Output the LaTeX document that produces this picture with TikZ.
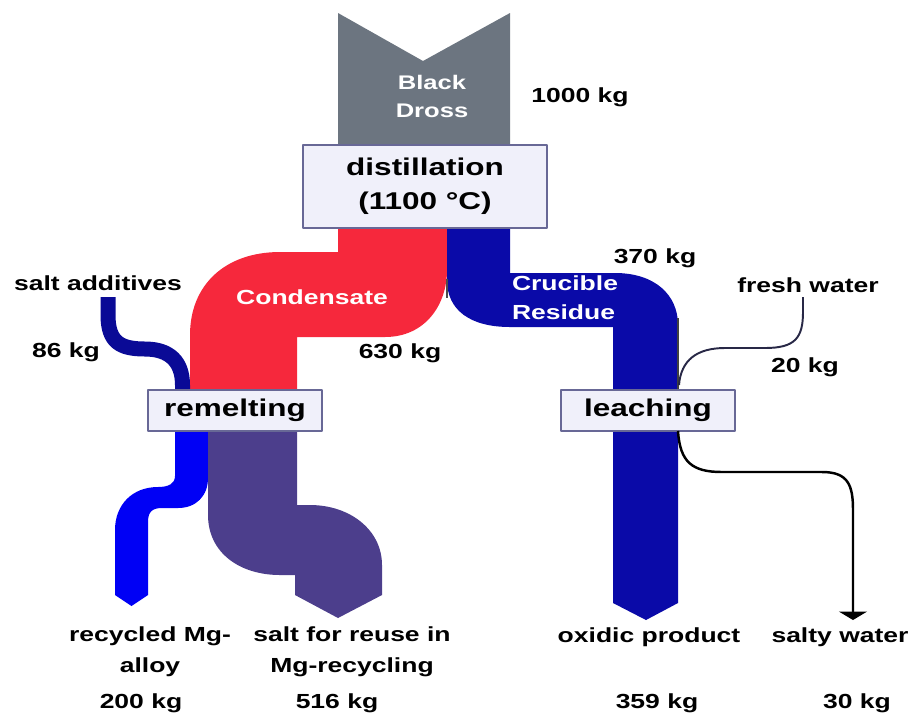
\documentclass[tikz,border=0pt]{standalone}
\usepackage{fontspec}
\setmainfont{Liberation Sans}[FakeStretch=1.3]
\usetikzlibrary{arrows.meta}

\definecolor{drossgray}{RGB}{108,117,128}
\definecolor{condred}{RGB}{246,40,60}
\definecolor{residueblue}{RGB}{10,10,168}
\definecolor{additiveblue}{RGB}{10,10,150}
\definecolor{alloyblue}{RGB}{0,0,245}
\definecolor{saltpurple}{RGB}{76,62,140}
\definecolor{boxfill}{RGB}{240,240,250}
\definecolor{boxline}{RGB}{104,104,150}
\definecolor{waterline}{RGB}{40,40,70}

\tikzset{
	procbox/.style={draw=boxline, fill=boxfill, line width=1.1pt, inner sep=0pt, align=center,
		font=\fontsize{13.8}{19.3}\selectfont\bfseries},
	kglabel/.style={inner sep=0pt, align=center, font=\fontsize{11.6}{17.6}\selectfont\bfseries},
	bandtext/.style={kglabel, text=white}
}

\begin{document}
\begin{tikzpicture}[x=0.02cm, y=-0.02cm, line join=round]
	\useasboundingbox (0,0) rectangle (909,718);

	% Black dross (input)
	\fill[drossgray] (338,13) -- (423,61) -- (510,13) -- (510,160) -- (338,160) -- cycle;

	% Condensate (red)
	\fill[condred] (338,220) -- (338,252) -- (280,252) .. controls (225,252) and (190,285) .. (190,335)
		-- (190,400) -- (297,400) -- (297,337) -- (385,337) .. controls (425,337) and (447,305) .. (447,270)
		-- (447,220) -- cycle;
	% Crucible residue (blue)
	\fill[residueblue] (447,220) -- (447,280) .. controls (447,310) and (470,327) .. (510,327)
		-- (613,327) -- (613,400) -- (678,400) -- (678,325) .. controls (678,295) and (655,273) .. (615,273)
		-- (510,273) -- (510,220) -- cycle;
	\draw[black!70, line width=0.6pt] (447,279) -- (447,298);
	\draw[black!75, line width=0.6pt] (678,318) -- (678,392);

	% Salt additives
	\draw[additiveblue, line width=0.3cm] (108,297) -- (108,315) .. controls (108,342) and (120,349) .. (145,349)
		.. controls (170,349) and (182.5,362) .. (182.5,385) -- (182.5,400);

	% Recycled alloy
	\fill[alloyblue] (175,420) -- (175,476) .. controls (175,484) and (168,487) .. (158,487)
		.. controls (132,487) and (115,505) .. (115,530) -- (115,595) -- (131.5,606) -- (148,595)
		-- (148,522) .. controls (148,512) and (152,508) .. (162,508) -- (178,508)
		.. controls (196,508) and (208,496) .. (208,478) -- (208,420) -- cycle;
	% Salt for reuse
	\fill[saltpurple] (208,420) -- (208,515) .. controls (208,553) and (240,575) .. (280,575)
		-- (295,575) -- (295,595) -- (338,618) -- (382,595) -- (382,565)
		.. controls (382,530) and (350,505) .. (310,505) -- (297,505) -- (297,420) -- cycle;
	% Oxidic product
	\fill[residueblue] (613,420) -- (613,603) -- (646,620) -- (678,603) -- (678,420) -- cycle;

	% Process boxes
	\node[procbox, minimum width=4.88cm, minimum height=1.66cm] (distil) at (425,186.5) {distillation\\(1100 °C)};
	\node[procbox, minimum width=3.48cm, minimum height=0.82cm] (remelt) at (235,410.5) {remelting};
	\node[procbox, minimum width=3.48cm, minimum height=0.82cm] (leach) at (648,410.5) {leaching};

	% Water lines
	\coordinate (fwsrc) at (803,297);
	\coordinate (fwin) at (679,385);
	\coordinate (swout) at (678,431);
	\coordinate (swend) at (853,620);
	\draw[waterline, line width=1.1pt] (fwsrc) -- (803,312) .. controls (803,338) and (795,348) .. (765,348)
		-- (725,348) .. controls (697,348) and (681,360) .. (fwin);
	\draw[black, line width=1.4pt, -{Triangle[width=0.56cm, length=0.17cm]}] (swout)
		.. controls (680,462) and (692,472) .. (722,472) -- (822,472) .. controls (848,472) and (853,485) .. (853,510)
		-- (swend);

	% Labels
	\node[bandtext, font=\fontsize{11.2}{15.9}\selectfont\bfseries] (dross) at (432,96) {Black\\Dross};
	\node[bandtext] (cond) at (312,297) {Condensate};
	\node[bandtext, align=left, font=\fontsize{11.6}{16.5}\selectfont\bfseries] (resid) at (565,298) {Crucible\\Residue};
	\node[kglabel] (m1000) at (580,97) {1000 kg};
	\node[kglabel] (m370) at (655,258) {370 kg};
	\node[kglabel] (m630) at (400,353) {630 kg};
	\node[kglabel] (addlbl) at (98,283) {salt additives};
	\node[kglabel] (m86) at (66,352) {86 kg};
	\node[kglabel] (fresh) at (808,285) {fresh water};
	\node[kglabel] (m20) at (805,367) {20 kg};

	\node[kglabel] (alloy) at (150,652) {recycled Mg-\\alloy};
	\node[kglabel] (salt) at (352,652) {salt for reuse in\\Mg-recycling};
	\node[kglabel] (oxid) at (649,637) {oxidic product};
	\node[kglabel] (salty) at (840,637) {salty water};
	\node[kglabel] (m200) at (141,703) {200 kg};
	\node[kglabel] (m516) at (337,703) {516 kg};
	\node[kglabel] (m359) at (657,703) {359 kg};
	\node[kglabel] (m30) at (857,703) {30 kg};
\end{tikzpicture}
\end{document}
